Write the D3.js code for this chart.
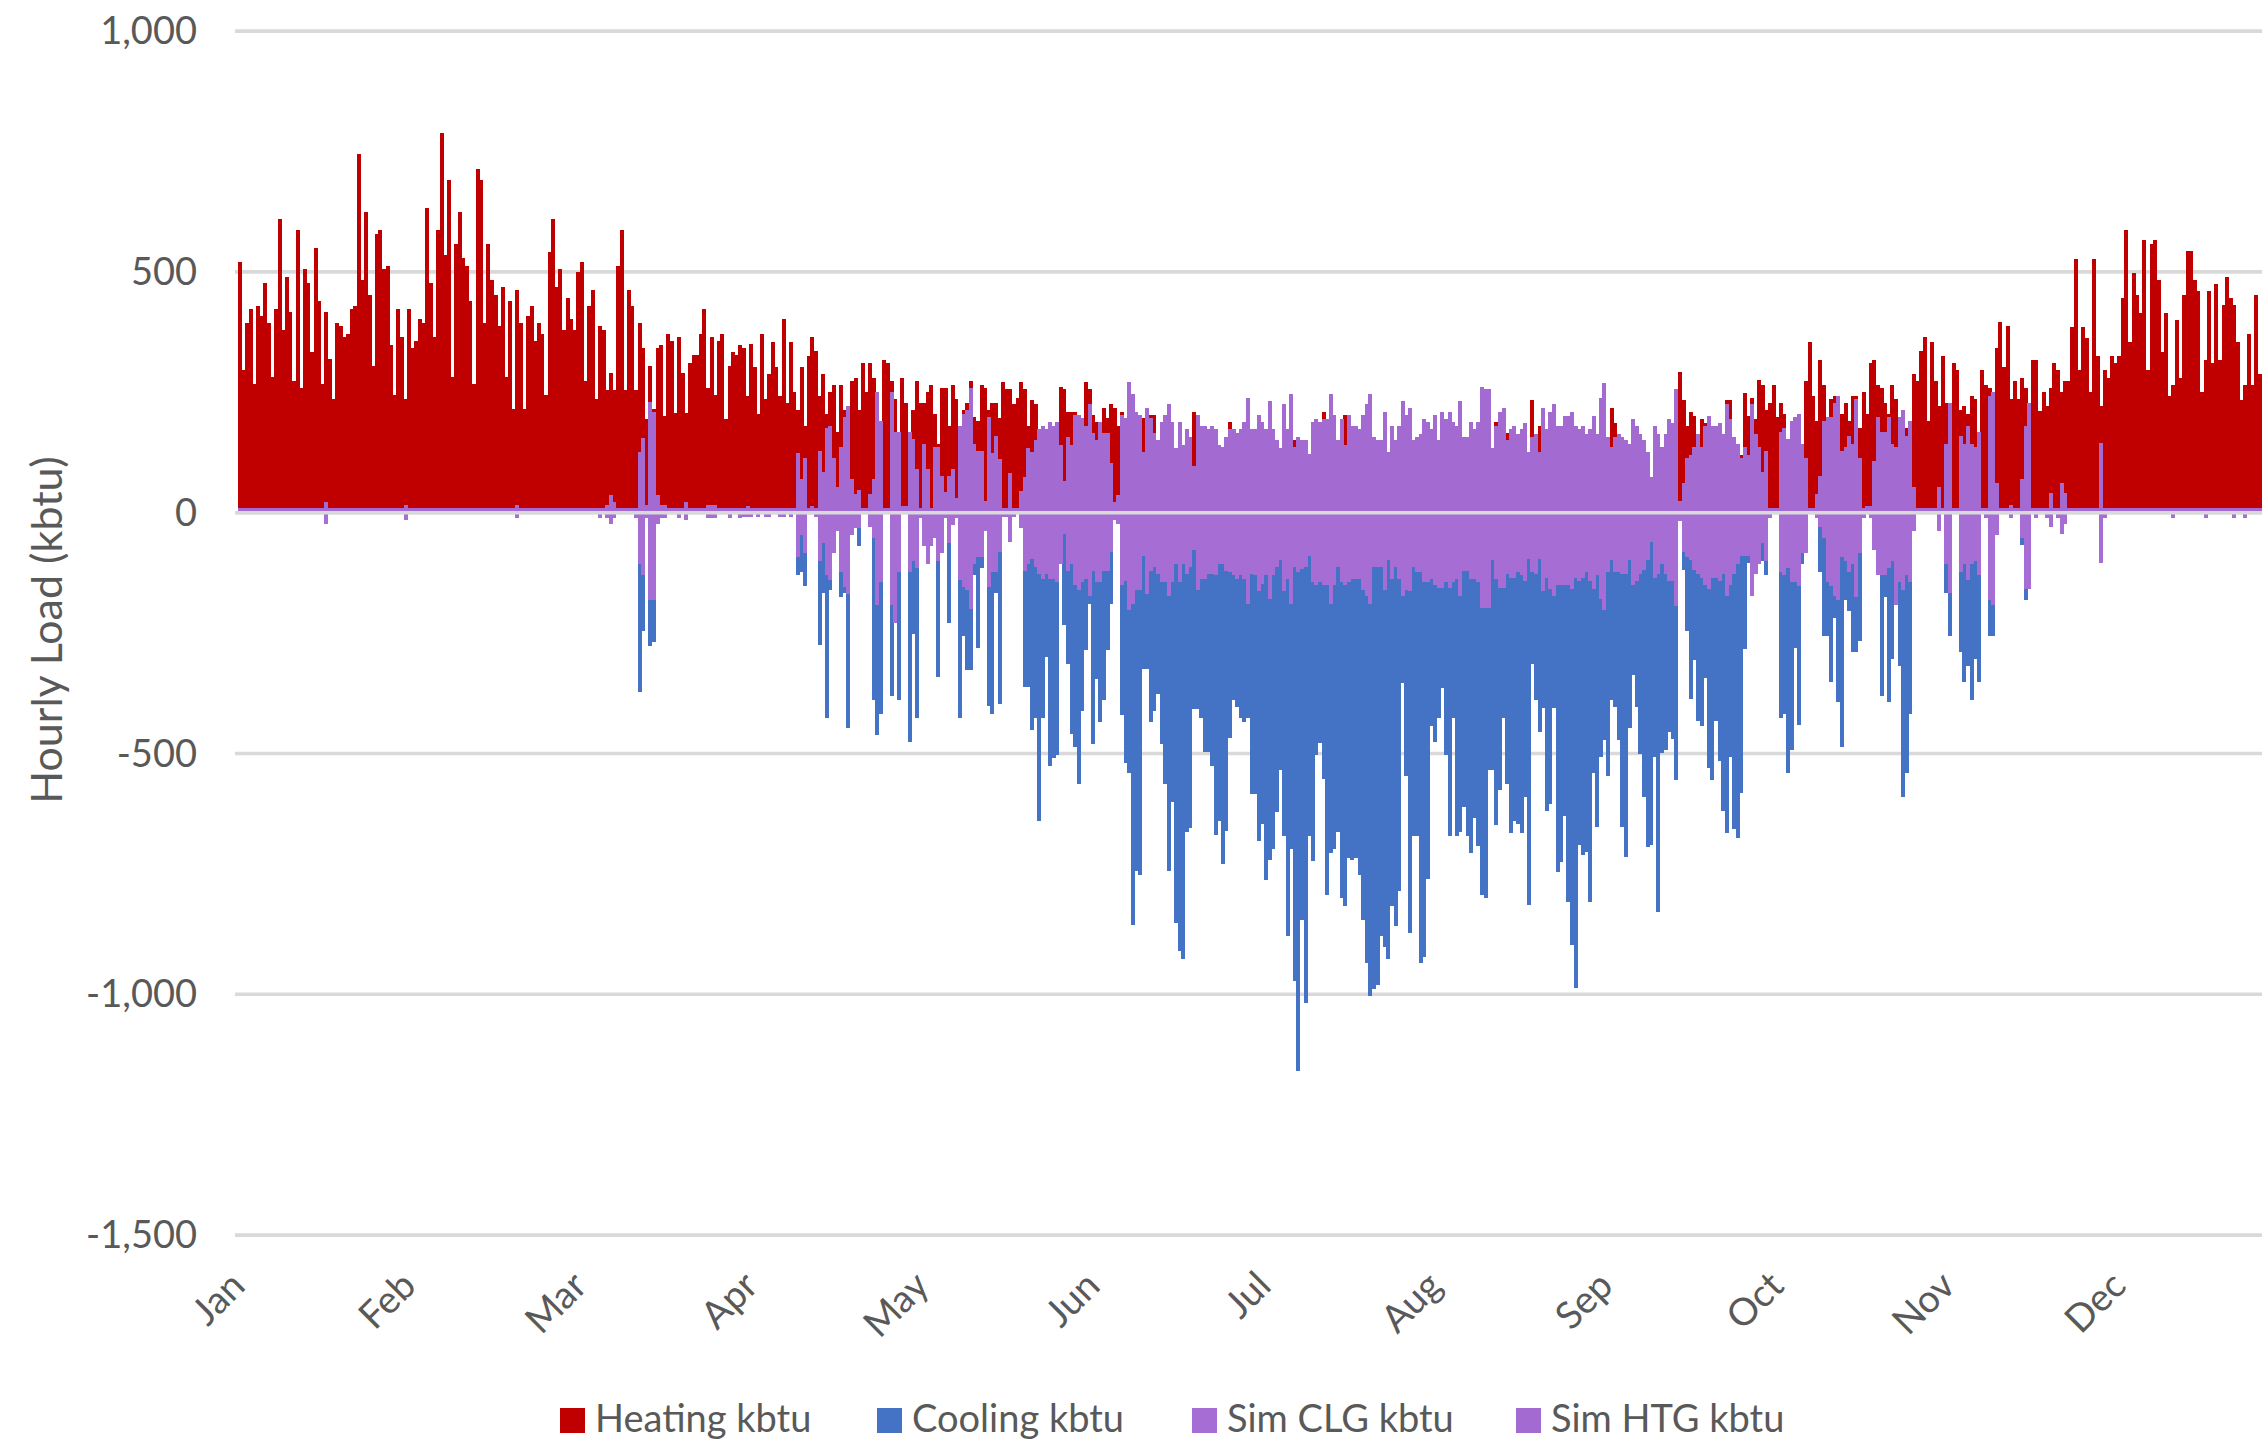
<!DOCTYPE html>
<html>
<head>
<meta charset="utf-8">
<script src="https://cdn.jsdelivr.net/npm/d3@7"></script>
<style>
  html, body { margin: 0; padding: 0; background: #ffffff; }
  svg { display: block; }
  text { font-family: Lato, "Open Sans", sans-serif; fill: #595959; }
</style>
</head>
<body>
<svg id="chart" width="2262" height="1442"></svg>
<script>
// ---- DATA (one value per plotted column, ~15 h each; the right edge of the year is cropped) ----
const months = ["Jan","Feb","Mar","Apr","May","Jun","Jul","Aug","Sep","Oct","Nov","Dec"];
const yTicks = [1000, 500, 0, -500, -1000, -1500];
const seriesNames = ["Heating kbtu", "Cooling kbtu", "Sim CLG kbtu", "Sim HTG kbtu"];
const nCols = 570;

const heat = [
/*0*/ 520,296,393,424,268,430,408,476,393,282, 424,610,379,490,416,274,588,259,505,476,
/*20*/ 334,550,439,268,416,319,237,393,387,365, 371,424,430,745,483,625,453,305,579,588,
/*40*/ 505,513,348,245,424,365,237,424,342,356, 402,393,633,476,365,588,788,536,691,282,
/*60*/ 558,625,528,513,439,268,713,691,393,558, 483,453,387,468,282,439,216,462,393,216,
/*80*/ 408,430,356,393,371,245,542,610,468,505, 379,445,402,379,499,520,274,430,462,237,
/*100*/ 387,379,254,291,254,513,588,254,462,430, 254,393,342,194,305,216,342,348,200,371,
/*120*/ 356,208,365,291,208,311,328,328,371,424, 259,365,245,356,371,194,305,334,328,348,
/*140*/ 341,242,350,303,204,372,236,289,355,303, 242,402,228,355,250,213,303,181,326,364,
/*160*/ 335,242,289,204,250,265,167,265,213,213, 274,280,213,311,250,311,280,250,190,318,
/*180*/ 311,274,236,167,280,228,167,213,274,228, 228,250,265,204,143,259,259,181,265,236,
/*200*/ 181,213,228,274,198,190,265,259,213,228, 228,197,271,257,257,225,239,271,257,180,
/*220*/ 233,225,0,0,0,0,0,0,262,257, 210,210,210,0,0,271,257,202,188,188,
/*240*/ 218,197,225,218,180,210,0,0,0,0, 0,197,0,202,202,0,0,0,0,0,
/*260*/ 0,0,0,0,0,210,0,0,0,0, 0,0,0,0,0,188,0,0,0,0,
/*280*/ 0,0,0,0,0,0,0,0,0,0, 0,0,0,150,0,0,0,0,0,0,
/*300*/ 0,210,0,0,0,0,0,202,0,0, 0,0,0,0,0,0,0,0,0,0,
/*320*/ 0,0,0,0,0,0,0,0,0,0, 0,0,0,0,0,0,0,0,0,0,
/*340*/ 0,0,0,0,0,0,0,0,0,188, 0,0,165,0,0,0,0,0,0,233,
/*360*/ 0,179,0,0,0,0,0,0,0,0, 0,0,0,0,0,0,0,0,0,0,
/*380*/ 0,218,187,0,0,0,0,0,0,0, 0,0,0,0,0,0,0,0,0,0,
/*400*/ 293,233,179,210,201,0,195,187,0,0, 0,0,0,233,233,0,0,120,248,201,
/*420*/ 239,195,276,265,213,228,265,198,228,204, 0,0,0,0,0,274,355,242,190,318,
/*440*/ 265,198,236,242,0,204,228,190,242,242, 175,250,204,311,318,265,259,228,204,265,
/*460*/ 236,198,175,175,190,289,274,335,364,190, 355,274,221,326,228,228,311,296,213,221,
/*480*/ 204,242,236,167,296,265,259,250,341,397, 303,387,236,274,236,279,258,227,317,317,
/*500*/ 212,250,221,258,310,296,250,273,273,385, 527,296,385,362,250,527,325,221,296,279,
/*520*/ 325,310,325,446,588,354,498,452,415,567, 296,558,567,483,333,415,242,265,400,279,
/*540*/ 452,544,544,483,460,250,317,460,310,475, 317,431,490,446,431,354,235,265,371,265,
/*560*/ 452,288
];

const cool = [
/*0*/ 0,0,0,0,0,0,0,0,0,0, 0,0,0,0,0,0,0,0,0,0,
/*20*/ 0,0,0,0,0,0,0,0,0,0, 0,0,0,0,0,0,0,0,0,0,
/*40*/ 0,0,0,0,0,0,0,0,0,0, 0,0,0,0,0,0,0,0,0,0,
/*60*/ 0,0,0,0,0,0,0,0,0,0, 0,0,0,0,0,0,0,0,0,0,
/*80*/ 0,0,0,0,0,0,0,0,0,0, 0,0,0,0,0,0,0,0,0,0,
/*100*/ 0,0,0,0,0,0,0,0,0,0, 0,-373,-246,0,-277,-268,0,0,0,0,
/*120*/ 0,0,0,0,0,0,0,0,0,0, 0,0,0,0,0,0,0,0,0,0,
/*140*/ 0,0,0,0,0,0,0,0,0,0, 0,0,0,0,0,-130,-123,-152,0,0,
/*160*/ 0,-274,-167,-426,-160,0,0,-175,-167,-448, 0,0,-69,0,0,0,-388,-462,-417,0,
/*180*/ 0,-381,-229,-388,0,0,-476,-252,-426,0, 0,0,0,0,-341,0,0,-229,0,0,
/*200*/ -426,-255,-326,-326,-130,-281,-115,0,-402,-417, -167,-398,0,0,0,0,0,0,-362,-362,
/*220*/ -451,-427,-640,-427,-300,-525,-509,-504,-106,-234, -314,-460,-487,-564,-412,-285,-189,-481,-346,-435,
/*240*/ -388,-285,-189,0,0,-420,-519,-541,-856,-745, -753,-324,-324,-435,-412,-376,-481,-564,-745,-600,
/*260*/ -851,-910,-926,-662,-654,-407,-407,-427,-497,-497, -525,-669,-640,-729,-660,-468,-388,-403,-427,-435,
/*280*/ -427,-585,-585,-681,-646,-763,-721,-699,-622,-535, -672,-878,-699,-973,-1160,-846,-1019,-672,-724,-504,
/*300*/ -479,-552,-794,-707,-699,-662,-801,-816,-716,-721, -716,-753,-846,-934,-1004,-988,-981,-878,-902,-926,
/*320*/ -816,-859,-786,-354,-547,-872,-672,-672,-934,-922, -761,-443,-476,-427,-364,-503,-672,-427,-672,-664,
/*340*/ -612,-672,-707,-633,-693,-794,-801,-535,-535,-649, -576,-427,-564,-665,-641,-646,-665,-590,-815,-314,
/*360*/ -388,-456,-406,-620,-605,-406,-746,-725,-629,-808, -898,-987,-689,-710,-704,-808,-540,-652,-507,-471,
/*380*/ -546,-388,-404,-471,-652,-715,-447,-337,-404,-501, -590,-694,-689,-507,-829,-499,-493,-456,-469,-555,
/*400*/ 0,-120,-245,-386,-306,-433,-442,-344,-531,-555, -433,-515,-620,-665,-507,-656,-675,-582,-284,-105,
/*420*/ 0,0,0,-100,-130,0,0,0,-426,-417, -540,-492,-281,-440,-107,0,0,0,0,-124,
/*440*/ -256,-256,-351,-219,-394,-486,-182,-205,-290,-290, -266,0,0,0,0,0,-380,-175,-394,-304,
/*460*/ -191,-318,-591,-540,-417,0,0,0,0,0, 0,0,0,0,-167,-256,0,0,-290,-351,
/*480*/ -318,-388,-304,-351,0,0,-256,-256,0,0, 0,0,0,0,0,-67,-182,0,0,0,
/*500*/ 0,0,0,0,0,-10,0,0,0,0, 0,0,0,0,0,0,0,0,0,0,
/*520*/ 0,0,0,0,0,0,0,0,0,0, 0,0,0,0,0,0,0,0,0,0,
/*540*/ 0,0,0,0,0,0,0,0,0,0, 0,0,0,0,0,0,0,0,0,0,
/*560*/ 0,0
];

const simClg = [
/*0*/ 0,0,0,0,0,0,0,0,0,0, 0,0,0,0,0,0,0,0,0,0,
/*20*/ 0,0,0,0,-24,0,0,0,0,0, 0,0,0,0,0,0,0,0,0,0,
/*40*/ 0,0,0,0,0,0,-15,0,0,0, 0,0,0,0,0,0,0,0,0,0,
/*60*/ 0,0,0,0,0,0,0,0,0,0, 0,0,0,0,0,0,0,-11,0,0,
/*80*/ 0,0,0,0,0,0,0,0,0,0, 0,0,0,0,0,0,0,0,0,0,
/*100*/ -11,0,-11,-24,-11,0,0,0,0,0, -11,-106,-129,-11,-181,-181,-24,-11,-11,0,
/*120*/ 0,0,-11,0,-16,0,0,0,0,0, -11,-11,-11,0,0,0,-11,0,0,-11,
/*140*/ -9,-9,-9,0,-9,0,-9,-9,0,0, -9,-9,0,-9,0,-92,-46,-84,0,0,
/*160*/ -9,-100,-63,-130,-139,-84,-39,-124,-154,-168, -46,-32,-32,0,0,-30,-53,-191,-144,0,
/*180*/ 0,-191,-229,-124,0,0,-124,-100,-115,-10, -69,-107,-69,-53,-100,-84,-11,-63,-25,-11,
/*200*/ -139,-154,-160,-199,-107,-92,-92,-39,-154,-124, -124,-82,-9,-9,-60,-9,0,-31,-122,-106,
/*220*/ -97,-113,-128,-137,-128,-137,-137,-144,-106,-45, -122,-106,-150,-160,-144,-137,-173,-122,-144,-144,
/*240*/ -122,-122,-82,-16,-24,-150,-142,-203,-189,-160, -160,-90,-168,-122,-113,-128,-144,-144,-173,-144,
/*260*/ -106,-144,-106,-128,-113,-77,-160,-137,-137,-128, -128,-130,-106,-106,-122,-124,-130,-137,-130,-137,
/*280*/ -189,-128,-130,-163,-148,-130,-180,-130,-113,-99, -163,-137,-189,-113,-124,-117,-113,-90,-144,-150,
/*300*/ -144,-150,-150,-189,-150,-113,-144,-150,-144,-137, -137,-137,-160,-173,-189,-113,-113,-113,-160,-98,
/*320*/ -137,-113,-137,-173,-160,-163,-113,-124,-124,-144, -144,-137,-150,-157,-157,-144,-157,-144,-137,-173,
/*340*/ -122,-122,-137,-137,-144,-197,-197,-197,-99,-137, -157,-157,-128,-136,-136,-123,-129,-142,-96,-123,
/*360*/ -127,-96,-163,-136,-158,-173,-150,-150,-150,-150, -158,-136,-142,-136,-123,-142,-158,-129,-180,-202,
/*380*/ -123,-98,-123,-123,-127,-127,-98,-150,-142,-127, -120,-98,-61,-136,-127,-106,-127,-142,-142,-194,
/*400*/ -17,-82,-93,-98,-120,-127,-136,-150,-158,-136, -136,-142,-127,-173,-150,-127,-106,-89,-89,-89,
/*420*/ -173,-127,-106,-63,-100,-10,0,0,-124,-130, -115,-144,-144,-152,-84,-84,0,0,-10,-30,
/*440*/ -53,-144,-152,-174,-182,-92,-100,-124,-107,-175, -84,-10,0,-10,-78,-130,-130,-130,-115,-100,
/*460*/ -191,-144,-160,-130,-144,-39,0,0,0,0, 0,0,-39,0,-107,-167,0,0,-124,-107,
/*480*/ -139,-107,-100,-130,0,-10,-182,-191,-46,0, 0,0,-10,0,0,-53,-159,-159,0,-10,
/*500*/ 0,0,-10,-30,0,-10,-44,-24,0,0, 0,0,0,0,0,0,0,-105,-10,0,
/*520*/ 0,0,0,0,0,0,0,0,0,0, 0,0,0,0,0,0,0,-10,0,0,
/*540*/ 0,0,0,0,0,0,-10,0,0,0, 0,0,0,0,-10,0,0,-10,0,0,
/*560*/ 0,0
];

const simHtg = [
/*0*/ 10,10,10,10,10,10,10,10,10,10, 10,10,10,10,10,10,10,10,10,10,
/*20*/ 10,10,10,10,22,10,10,10,10,10, 10,10,10,10,10,10,10,10,10,10,
/*40*/ 10,10,10,10,10,10,16,10,10,10, 10,10,10,10,10,10,10,10,10,10,
/*60*/ 10,10,10,10,10,10,10,10,10,10, 10,10,10,10,10,10,10,16,10,10,
/*80*/ 10,10,10,10,10,10,10,10,10,10, 10,10,10,10,10,10,10,10,10,10,
/*100*/ 10,10,16,36,22,10,10,10,10,10, 10,126,156,16,230,210,36,16,16,10,
/*120*/ 10,10,10,10,22,10,10,10,10,10, 16,16,16,10,10,10,10,10,10,10,
/*140*/ 10,14,10,10,10,10,10,10,10,10, 10,10,10,10,10,123,69,114,10,14,
/*160*/ 10,129,84,175,181,114,53,137,198,221, 69,38,47,10,10,38,69,250,190,10,
/*180*/ 10,250,167,167,14,14,167,152,91,10, 143,91,10,137,137,76,44,76,91,31,
/*200*/ 181,204,213,259,143,129,129,24,198,123, 160,112,10,10,82,10,10,45,74,134,
/*220*/ 126,150,173,180,173,188,180,188,141,66, 158,141,202,202,197,180,225,166,150,188,
/*240*/ 166,166,104,23,37,202,197,271,247,210, 202,126,218,197,166,150,188,202,225,188,
/*260*/ 134,188,141,173,158,97,202,180,180,173, 180,173,141,137,158,173,173,166,173,188,
/*280*/ 239,173,173,202,188,173,232,173,150,135, 225,173,247,137,158,150,150,121,188,195,
/*300*/ 188,195,195,247,202,150,195,141,202,180, 180,173,202,225,247,158,150,150,210,126,
/*320*/ 180,150,180,232,202,217,150,158,164,195, 188,173,202,150,210,195,210,188,180,232,
/*340*/ 158,158,188,173,188,262,256,256,135,180, 210,218,150,173,179,164,173,187,127,158,
/*360*/ 164,127,218,173,210,225,179,179,201,201, 210,179,173,179,164,173,201,164,239,270,
/*380*/ 158,137,158,164,158,150,142,195,179,164, 150,127,75,179,164,137,164,195,187,256,
/*400*/ 25,61,113,120,137,164,137,179,201,179, 179,187,164,225,195,158,142,113,137,120,
/*420*/ 225,164,137,84,129,10,10,10,167,175, 152,190,198,204,143,114,10,10,38,76,
/*440*/ 190,198,198,228,242,129,137,160,143,236, 114,10,14,14,107,198,167,167,198,143,
/*460*/ 137,198,213,160,190,53,10,10,10,10, 10,10,53,10,143,228,10,10,160,143,
/*480*/ 181,143,137,167,10,10,242,250,62,10, 10,10,17,10,10,69,181,227,10,10,
/*500*/ 10,10,10,40,10,10,62,40,10,10, 10,10,10,10,10,10,10,144,10,10,
/*520*/ 10,10,10,10,10,10,10,10,10,10, 10,10,10,10,10,10,10,10,10,10,
/*540*/ 10,10,10,10,10,10,10,10,10,10, 10,10,10,10,10,10,10,10,10,10,
/*560*/ 10,10
];

// ---- CHART ----
const svg = d3.select("#chart");
const W = 2262, H = 1442;
const plotLeft = 238, plotRight = 2290;   // the source image is cropped at the right
const x = d3.scaleLinear().domain([0, nCols]).range([plotLeft, plotRight]);
const y = d3.scaleLinear().domain([-1500, 1000]).range([1235.1, 31.1]);

const colors = {
  heat: "#C00000",
  cool: "#4472C4",
  simClg: "#A66DD4",
  simHtg: "#A36AD2"
};

const gridColor = "#D9D9D9";
const gridW = 3.6;

// gridlines
svg.append("g").selectAll("line").data(yTicks).join("line")
  .attr("x1", 235).attr("x2", W)
  .attr("y1", d => y(d)).attr("y2", d => y(d))
  .attr("stroke", gridColor).attr("stroke-width", gridW);

// bars (drawn in series order like the source: Heating, Cooling, Sim CLG, Sim HTG)
const barsG = svg.append("g").attr("shape-rendering", "crispEdges");
function drawSeries(vals, color) {
  barsG.append("g").selectAll("rect").data(vals).join("rect")
    .attr("x", (d, i) => x(i))
    .attr("width", (d, i) => x(i + 1) - x(i) + 0.3)
    .attr("y", d => Math.min(y(d), y(0)))
    .attr("height", d => Math.abs(y(d) - y(0)))
    .attr("fill", color);
}
drawSeries(heat, colors.heat);
drawSeries(cool, colors.cool);
drawSeries(simClg, colors.simClg);
drawSeries(simHtg, colors.simHtg);

// horizontal axis line at zero (drawn over the bars)
svg.append("line")
  .attr("x1", 235).attr("x2", W)
  .attr("y1", y(0)).attr("y2", y(0))
  .attr("stroke", gridColor).attr("stroke-width", gridW);

// y tick labels (plain hyphen-minus as in the source)
const fmt = v => d3.format(",")(v).replace("\u2212", "-");
svg.append("g").selectAll("text").data(yTicks).join("text")
  .attr("x", 197)
  .attr("y", d => y(d) + 13)
  .attr("text-anchor", "end")
  .style("font-size", "38px")
  .text(d => fmt(d));

// y axis title
svg.append("text")
  .attr("transform", "translate(62,630) rotate(-90)")
  .attr("text-anchor", "middle")
  .style("font-size", "43px")
  .text("Hourly Load (kbtu)");

// x month labels (every 1/12 of the hourly series), rotated -45°
svg.append("g").selectAll("text").data(months).join("text")
  .attr("transform", (d, i) => `translate(${x(i * nCols / 12) + 9},1288) rotate(-45)`)
  .attr("text-anchor", "end")
  .style("font-size", "38px")
  .text(d => d);

// legend
const legendX = [560, 877, 1192, 1516];
const legendColors = [colors.heat, colors.cool, colors.simClg, colors.simHtg];
const lg = svg.append("g");
seriesNames.forEach((name, i) => {
  lg.append("rect")
    .attr("x", legendX[i]).attr("y", 1408)
    .attr("width", 25).attr("height", 25)
    .attr("fill", legendColors[i]);
  lg.append("text")
    .attr("x", legendX[i] + 35).attr("y", 1432)
    .style("font-size", "38px")
    .text(name);
});
</script>
</body>
</html>
